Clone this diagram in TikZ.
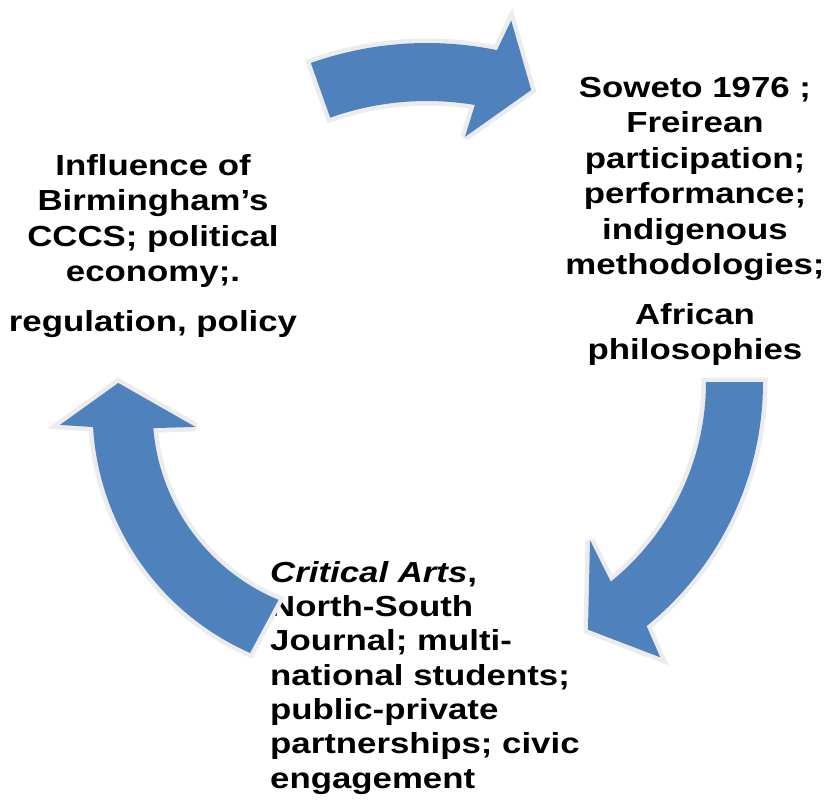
\documentclass[tikz,border=0pt]{standalone}
\usepackage{fontspec}
\setmainfont{Liberation Sans}[FakeStretch=1.2]
\definecolor{arrowblue}{RGB}{79,129,189}
\definecolor{rimgrey}{RGB}{236,236,236}
\begin{document}
\begin{tikzpicture}[x=1pt,y=-1pt,
  txt/.style={font=\fontsize{29}{35.5}\selectfont\bfseries, inner sep=0pt, text=black},
  txtb/.style={font=\fontsize{29}{34.3}\selectfont\bfseries, inner sep=0pt, text=black},
  cyclearrow/.style={fill=arrowblue, preaction={draw=rimgrey, line width=9pt, line join=miter, miter limit=3}}]
\useasboundingbox (0,0) rectangle (827,800);
\fill[white] (0,0) rectangle (827,800);

% text blocks
\node[txt, align=center, anchor=north] (left) at (153,154)
  {Influence of\\Birmingham’s\\CCCS; political\\economy;.\\[14pt]regulation, policy};
\node[txt, align=center, anchor=north] (right) at (695,77)
  {Soweto 1976 ;\\Freirean\\participation;\\performance;\\indigenous\\methodologies;\\[14pt]African\\philosophies};
\node[txtb, align=left, anchor=north west] (bottom) at (270,561)
  {\textit{Critical Arts}, \\North-South\\Journal; multi-\\national students;\\public-private\\partnerships; civic\\engagement};

% top arrow (left text -> right text)
\begin{scope}[shift={(427,391)}]
\path[cyclearrow] (-109.5:348) arc[start angle=-109.5, end angle=-78.4, radius=348]
  -- (-77.2:380) -- (-70.9:318.5) -- (-81.5:257) -- (-80.5:290)
  arc[start angle=-80.5, end angle=-109.5, radius=290] -- cycle;
\end{scope}

% right arrow (right text -> bottom text)
\begin{scope}[shift={(449,382)}]
\path[cyclearrow] (0:257) -- (0:314) arc[start angle=0, end angle=51, radius=314]
  -- (52.5:347) -- (60.7:284) -- (48.3:212) -- (51:257)
  arc[start angle=51, end angle=0, radius=257] -- cycle;
\end{scope}

% left arrow (bottom text -> left text)
\begin{scope}[shift={(356.6,411.4)}]
\path[cyclearrow] (113.8:264) arc[start angle=113.8, end angle=176.6, radius=264]
  -- (177.4:297) -- (186.8:240) -- (174.5:162) -- (175.3:204)
  arc[start angle=175.3, end angle=112.5, radius=204] -- cycle;
\end{scope}
\end{tikzpicture}
\end{document}
